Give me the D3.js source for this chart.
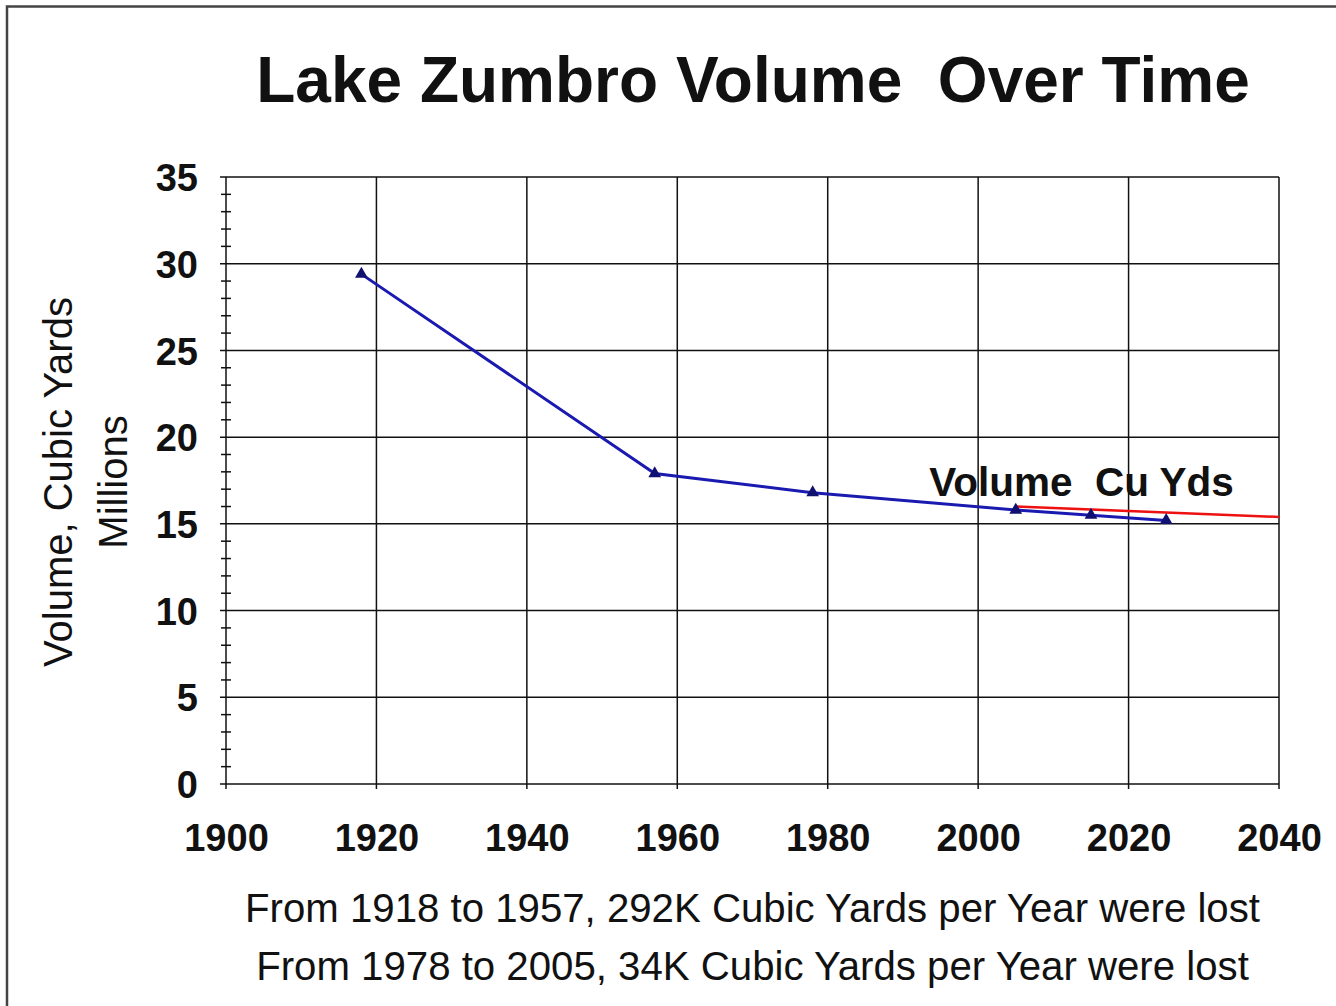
<!DOCTYPE html>
<html lang="en">
<head>
<meta charset="utf-8">
<title>Lake Zumbro Volume Over Time</title>
<script src="https://cdn.jsdelivr.net/npm/d3@7"></script>
<style>
  body { margin: 0; background: white; }
  svg text { font-family: "Liberation Sans", Arial, sans-serif; fill: #111; }
  .axis text { font-size: 38px; font-weight: bold; }
  .axis path { display: none; }
  .grid line { stroke: #111; stroke-width: 1.5; }
</style>
</head>
<body>
<script>
// data (millions of cubic yards)
var years = [1918, 1957, 1978, 2005, 2015, 2025];
var volumes = [29.4, 17.9, 16.8, 15.8, 15.5, 15.2];
var trendYears = [2005, 2040];
var trendVolumes = [16.0, 15.4];

var xTicks = [1900, 1920, 1940, 1960, 1980, 2000, 2020, 2040];
var yTicks = [0, 5, 10, 15, 20, 25, 30, 35];
var yMinor = d3.range(0, 36, 1);

var footLines = ["From 1918 to 1957, 292K Cubic Yards per Year were lost",
                 "From 1978 to 2005, 34K Cubic Yards per Year were lost"];

var W = 1336, H = 1006;
var margin = {top: 177, right: 57, bottom: 222, left: 226};
var width = W - margin.left - margin.right,
    height = H - margin.top - margin.bottom;

var svg = d3.select("body").append("svg")
    .attr("width", W).attr("height", H);

// outer frame (only top and left edges show)
svg.append("path")
    .attr("d", "M7,1006 V6.5 H1336")
    .attr("fill", "none").attr("stroke", "#444").attr("stroke-width", 2.5);

var g = svg.append("g")
    .attr("transform", "translate(" + margin.left + "," + margin.top + ")");

var x = d3.scaleLinear().domain([1900, 2040]).range([0, width]);
var y = d3.scaleLinear().domain([0, 35]).range([height, 0]);

// grid
var grid = g.append("g").attr("class", "grid");
grid.selectAll(".hl").data(yTicks).enter().append("line")
    .attr("x1", -6).attr("x2", width)
    .attr("y1", function(d) { return y(d); })
    .attr("y2", function(d) { return y(d); });
grid.selectAll(".vl").data(xTicks).enter().append("line")
    .attr("x1", function(d) { return x(d); })
    .attr("x2", function(d) { return x(d); })
    .attr("y1", 0).attr("y2", height + 5);
// minor ticks crossing the y axis
grid.selectAll(".mt").data(yMinor.filter(function(d) { return d % 5 != 0; })).enter().append("line")
    .attr("x1", -5).attr("x2", 5)
    .attr("y1", function(d) { return y(d); })
    .attr("y2", function(d) { return y(d); });

// axes (labels only)
g.append("g").attr("class", "axis")
    .call(d3.axisLeft(y).tickValues(yTicks).tickSize(0).tickPadding(28))
    .selectAll("text").attr("dy", "0.36em");

g.append("g").attr("class", "axis")
    .attr("transform", "translate(0," + height + ")")
    .call(d3.axisBottom(x).tickValues(xTicks).tickSize(0).tickPadding(53).tickFormat(d3.format("d")))
    .selectAll("text").attr("dy", "0.36em");

// trend line
var trend = trendYears.map(function(d, i) { return [d, trendVolumes[i]]; });
var pts = years.map(function(d, i) { return [d, volumes[i]]; });
var line = d3.line()
    .x(function(d) { return x(d[0]); })
    .y(function(d) { return y(d[1]); });

g.append("path").datum(trend)
    .attr("d", line)
    .attr("fill", "none").attr("stroke", "#ee1111").attr("stroke-width", 2.5);

g.append("path").datum(pts)
    .attr("d", line)
    .attr("fill", "none").attr("stroke", "#1a1ab0").attr("stroke-width", 3);

g.selectAll(".mk").data(pts).enter().append("path")
    .attr("d", d3.symbol().type(d3.symbolTriangle).size(70))
    .attr("transform", function(d) { return "translate(" + x(d[0]) + "," + y(d[1]) + ")"; })
    .attr("fill", "#101070");

// series label
g.append("text")
    .attr("x", x(1993.5)).attr("y", y(15.8) - 14)
    .style("white-space", "pre")
    .attr("font-size", 40.5).attr("font-weight", "bold")
    .text("Volume  Cu Yds");

// title
svg.append("text")
    .attr("x", 753).attr("y", 102)
    .attr("text-anchor", "middle")
    .style("white-space", "pre")
    .attr("font-size", 64).attr("font-weight", "bold")
    .text("Lake Zumbro Volume  Over Time");

// y axis titles
svg.append("text")
    .attr("transform", "translate(72,482) rotate(-90)")
    .attr("text-anchor", "middle")
    .attr("font-size", 40)
    .text("Volume, Cubic Yards");
svg.append("text")
    .attr("transform", "translate(127,482) rotate(-90)")
    .attr("text-anchor", "middle")
    .attr("font-size", 40)
    .text("Millions");

// footnotes
svg.selectAll(".foot").data(footLines).enter().append("text")
    .attr("x", 752.5)
    .attr("y", function(d, i) { return 922 + i * 58; })
    .attr("text-anchor", "middle")
    .attr("font-size", 40.2)
    .text(function(d) { return d; });
</script>
</body>
</html>
